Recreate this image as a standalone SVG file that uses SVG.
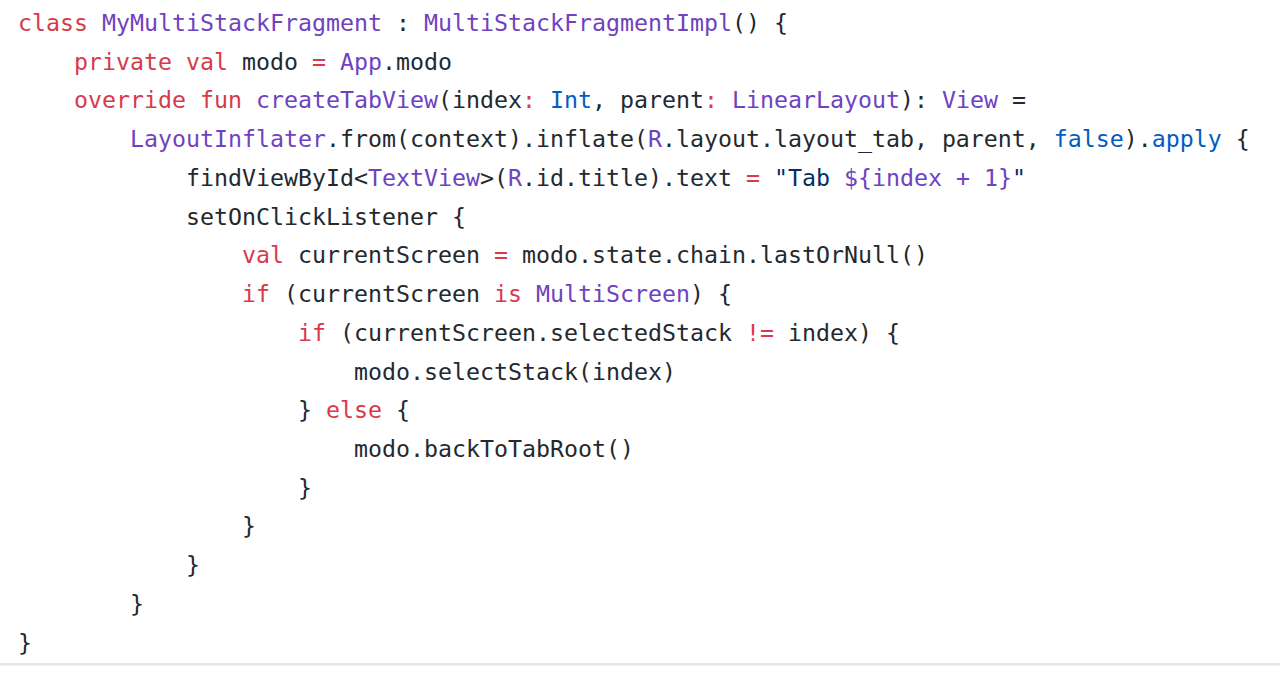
<svg xmlns="http://www.w3.org/2000/svg" width="1280" height="673" viewBox="0 0 1280 673">
<style>
text{font-family:"DejaVu Sans Mono","Liberation Mono",monospace;font-size:23.25px;fill:#24292e;white-space:pre}
.k{fill:#d73a49}
.t{fill:#6f42c1}
.b{fill:#005cc5}
.s{fill:#032f62}
</style>
<rect x="0" y="0" width="1280" height="673" fill="#ffffff"/>
<g id="code" xml:space="preserve">
<text x="18" y="31"><tspan class="k">class</tspan> <tspan class="t">MyMultiStackFragment</tspan> : <tspan class="t">MultiStackFragmentImpl</tspan>() {</text>
<text x="74" y="69.7"><tspan class="k">private val</tspan> modo <tspan class="k">=</tspan> <tspan class="t">App</tspan>.modo</text>
<text x="74" y="108.4"><tspan class="k">override fun</tspan> <tspan class="t">createTabView</tspan>(index<tspan class="k">:</tspan> <tspan class="b">Int</tspan>, parent<tspan class="k">:</tspan> <tspan class="t">LinearLayout</tspan>): <tspan class="t">View</tspan> =</text>
<text x="130" y="147.2"><tspan class="t">LayoutInflater</tspan>.from(context).inflate(<tspan class="t">R</tspan>.layout.layout_tab, parent, <tspan class="b">false</tspan>).<tspan class="b">apply</tspan> {</text>
<text x="186" y="185.9">findViewById&lt;<tspan class="t">TextView</tspan>&gt;(<tspan class="t">R</tspan>.id.title).text <tspan class="k">=</tspan> <tspan class="s">"Tab </tspan><tspan class="t">${index + 1}</tspan><tspan class="s">"</tspan></text>
<text x="186" y="224.6">setOnClickListener {</text>
<text x="242" y="263.3"><tspan class="k">val</tspan> currentScreen <tspan class="k">=</tspan> modo.state.chain.lastOrNull()</text>
<text x="242" y="302"><tspan class="k">if</tspan> (currentScreen <tspan class="k">is</tspan> <tspan class="t">MultiScreen</tspan>) {</text>
<text x="298" y="340.8"><tspan class="k">if</tspan> (currentScreen.selectedStack <tspan class="k">!=</tspan> index) {</text>
<text x="354" y="379.5">modo.selectStack(index)</text>
<text x="298" y="418.2">} <tspan class="k">else</tspan> {</text>
<text x="354" y="456.9">modo.backToTabRoot()</text>
<text x="298" y="495.6">}</text>
<text x="242" y="534.4">}</text>
<text x="186" y="573.1">}</text>
<text x="130" y="611.8">}</text>
<text x="18" y="650.5">}</text>
</g>
<rect x="0" y="663" width="1280" height="2.5" fill="#e6e6e6"/>
</svg>
